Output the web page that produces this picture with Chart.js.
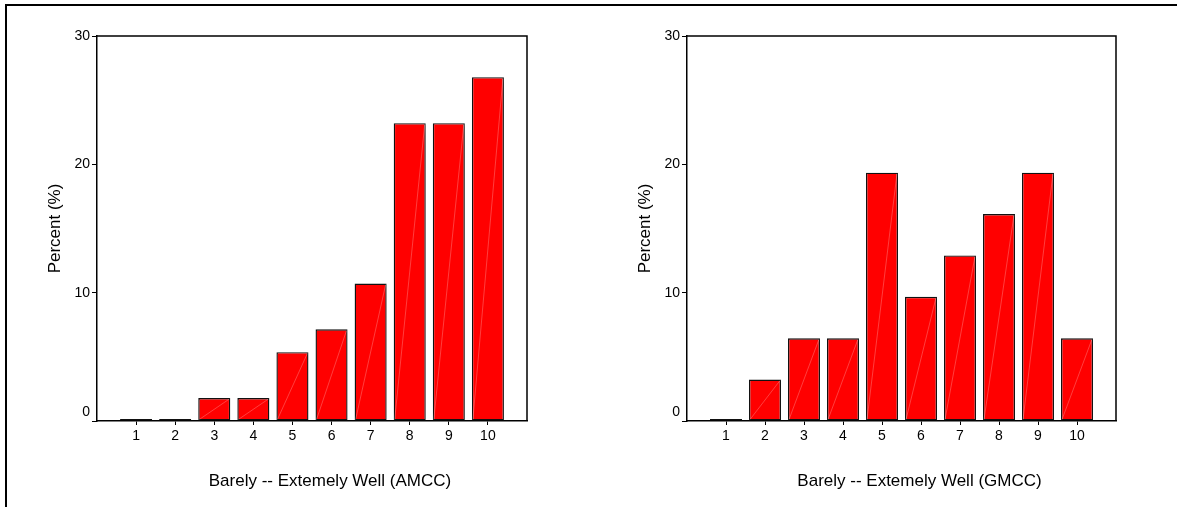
<!DOCTYPE html>
<html>
<head>
<meta charset="utf-8">
<script src="https://cdn.jsdelivr.net/npm/chart.js@4.4.0/dist/chart.umd.min.js"></script>
<style>
  body { margin: 0; background: #fff; }
  #frame { position: absolute; left: 5px; top: 4px; width: 1172px; height: 503px; border-left: 2px solid #000; border-top: 2px solid #000; }
  canvas { position: absolute; top: 0; }
  #amcc { left: 0; }
  #gmcc { left: 590px; }
</style>
</head>
<body>
<div id="frame"></div>
<canvas id="amcc" width="590" height="507"></canvas>
<canvas id="gmcc" width="587" height="507"></canvas>
<script>
// rating categories 1..10
const categories = ['1', '2', '3', '4', '5', '6', '7', '8', '9', '10'];
// percent of respondents (AMCC, n = 56)
const amccValues = [0, 0, 1.79, 1.79, 5.36, 7.14, 10.71, 23.21, 23.21, 26.79];
// percent of respondents (GMCC, n = 31)
const gmccValues = [0, 3.23, 6.45, 6.45, 19.35, 9.68, 12.9, 16.13, 19.35, 6.45];
const yTicks = [0, 10, 20, 30];
const yTitle = 'Percent (%)';
const amccTitle = 'Barely -- Extemely Well (AMCC)';
const gmccTitle = 'Barely -- Extemely Well (GMCC)';

const FONT = 'Arial, "Liberation Sans", sans-serif';

// empty slot on each side so the bars sit inside a 0..11 axis
const axisLabels = [''].concat(categories, ['']);

// box around plot area, faint diagonal on each bar, x axis title
const extrasPlugin = {
    id: 'extras',
    afterDatasetsDraw(chart) {
        const ctx = chart.ctx;
        const meta = chart.getDatasetMeta(0);
        ctx.save();
        ctx.strokeStyle = 'rgba(255,255,255,0.35)';
        ctx.lineWidth = 0.7;
        meta.data.forEach((bar, i) => {
            const v = chart.data.datasets[0].data[i];
            if (!v) return;
            const p = bar.getProps(['x', 'y', 'base', 'width'], true);
            ctx.beginPath();
            ctx.moveTo(p.x - p.width / 2 + 1, p.base - 1);
            ctx.lineTo(p.x + p.width / 2 - 1, p.y + 1);
            ctx.stroke();
        });
        ctx.restore();
    },
    afterDraw(chart, args, opts) {
        const ctx = chart.ctx;
        const a = chart.chartArea;
        ctx.save();
        ctx.strokeStyle = '#000';
        ctx.lineWidth = 1.5;
        ctx.beginPath();
        ctx.moveTo(a.left, a.top);
        ctx.lineTo(a.right, a.top);
        ctx.lineTo(a.right, a.bottom);
        ctx.stroke();
        ctx.font = '17px ' + FONT;
        ctx.fillStyle = '#000';
        ctx.textAlign = 'center';
        ctx.textBaseline = 'middle';
        ctx.fillText(opts.text, (a.left + a.right) / 2 + 18, a.bottom + 60);
        ctx.restore();
    }
};

function makeChart(id, values, title, padRight) {
    const ctx = document.getElementById(id).getContext('2d');
    return new Chart(ctx, {
        type: 'bar',
        data: {
            labels: axisLabels,
            datasets: [{
                data: [null].concat(values, [null]),
                backgroundColor: '#ff0000',
                borderColor: '#111',
                borderWidth: 1.4,
                borderSkipped: false,
                minBarLength: 2,
                barPercentage: 0.82,
                categoryPercentage: 1
            }]
        },
        options: {
            responsive: false,
            animation: false,
            devicePixelRatio: 1,
            layout: { padding: { left: 0, top: 36, right: padRight, bottom: 56 } },
            plugins: {
                legend: { display: false },
                tooltip: { enabled: false },
                extras: { text: title }
            },
            scales: {
                x: {
                    offset: false,
                    grid: {
                        offset: false,
                        drawOnChartArea: false,
                        tickLength: 4,
                        color: (c) => (c.index === 0 || c.index === axisLabels.length - 1) ? 'rgba(0,0,0,0)' : '#000'
                    },
                    border: { display: true, color: '#000', width: 1.5 },
                    ticks: {
                        autoSkip: false,
                        maxRotation: 0,
                        padding: 3,
                        color: '#000',
                        font: { family: FONT, size: 14 },
                        callback: function(v) { return this.getLabelForValue(v); }
                    },
                    afterFit: (s) => { s.height = 30; }
                },
                y: {
                    min: 0,
                    max: 30,
                    afterBuildTicks: (s) => { s.ticks = yTicks.map(v => ({ value: v })); },
                    grid: { drawOnChartArea: false, tickLength: 5, color: '#000' },
                    border: { display: true, color: '#000', width: 1.5 },
                    ticks: {
                        padding: 2,
                        color: '#000',
                        font: { family: FONT, size: 14 },
                        // the zero label sits a bit above its tick in the original
                        callback: (v) => v === 0 ? ['0', ''] : String(v)
                    },
                    title: {
                        display: true,
                        text: yTitle,
                        color: '#000',
                        font: { family: FONT, size: 17 },
                        padding: { top: 45, bottom: 0 }
                    },
                    afterFit: (s) => { s.width = 97; }
                }
            }
        },
        plugins: [extrasPlugin]
    });
}

makeChart('amcc', amccValues, amccTitle, 63);
makeChart('gmcc', gmccValues, gmccTitle, 61);
</script>
</body>
</html>
